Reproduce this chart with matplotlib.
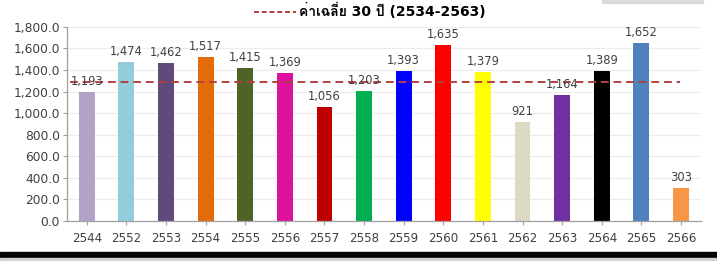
import matplotlib.pyplot as plt
from matplotlib import font_manager
from matplotlib.ft2font import FT2Font
from matplotlib.patches import Rectangle
from matplotlib.lines import Line2D

# find any installed font that has Thai glyphs
thai_fams = []
for f in font_manager.fontManager.ttflist:
    try:
        cmap = FT2Font(f.fname).get_charmap()
    except Exception:
        continue
    if 0x0E04 in cmap and 0x0E09 in cmap and f.name not in thai_fams:
        thai_fams.append(f.name)

plt.rcParams['font.family'] = ['DejaVu Sans'] + thai_fams + ['Noto Sans', 'Noto Sans CJK SC']

years = ["2544", "2552", "2553", "2554", "2555", "2556", "2557", "2558",
         "2559", "2560", "2561", "2562", "2563", "2564", "2565", "2566"]
rain = [1193, 1474, 1462, 1517, 1415, 1369, 1056, 1203,
        1393, 1635, 1379, 921, 1164, 1389, 1652, 303]
colors = ["#b3a2c7", "#92cddc", "#604a7b", "#e36c09", "#4f6228", "#dd119b",
          "#c00000", "#00b050", "#0000ff", "#ff0000", "#ffff00", "#ddd9c3",
          "#7030a0", "#000000", "#4f81bd", "#f79646"]
avg_30 = 1290
avg_label = "ค่าเฉลี่ย 30 ปี (2534-2563)"

fig = plt.figure(figsize=(7.17, 2.61), dpi=100)
ax = fig.add_axes([0.0934, 0.153, 0.884, 0.744])

x = range(len(years))
ax.bar(x, rain, width=0.4, color=colors, zorder=2)
for i, v in enumerate(rain):
    ax.annotate(f"{v:,}", (i, v), xytext=(0, 3), textcoords="offset points",
                ha="center", va="bottom", fontsize=8.3, color="#404040", zorder=4)

ax.axhline(avg_30, xmin=0.005, xmax=0.967, color="#b5403d", ls=(0, (4, 2.5)), lw=1.4, zorder=3)

ax.set_xlim(-0.5, 15.5)
ax.set_ylim(0, 1800)
ax.set_yticks(range(0, 1801, 200))
ax.set_yticklabels([f"{t:,.1f}" for t in range(0, 1801, 200)])
ax.set_xticks(list(x))
ax.set_xticklabels(years)
ax.tick_params(axis="y", labelsize=8.8, colors="#a0a0a0", labelcolor="#404040", length=3, width=0.8, pad=2)
ax.tick_params(axis="x", labelsize=8.6, colors="#a0a0a0", labelcolor="#404040", length=3, width=0.8, pad=5)
ax.grid(axis="y", color="#ececec", lw=0.8, zorder=0)
for s in ["top", "right"]:
    ax.spines[s].set_visible(False)
for s in ["left", "bottom"]:
    ax.spines[s].set_color("#a0a0a0")
    ax.spines[s].set_linewidth(0.9)

handle = Line2D([], [], color="#b5403d", ls=(0, (2.5, 1.5)), lw=1.4)
fig.legend([handle], [avg_label], loc="upper center", bbox_to_anchor=(0.516, 1.035),
           frameon=False, handlelength=3.0, handletextpad=0.25,
           prop={"family": ['DejaVu Sans'] + thai_fams, "weight": "bold", "size": 10})

# screenshot frame bits
fig.patches.append(Rectangle((0, 0.012), 1, 0.022, transform=fig.transFigure,
                             color="black", zorder=5))
fig.patches.append(Rectangle((0, 0), 1, 0.012, transform=fig.transFigure,
                             color="#d0d0d0", zorder=5))
fig.patches.append(Rectangle((0.84, 0.99), 0.14, 0.01, transform=fig.transFigure,
                             color="#dadada", zorder=5))

fig.savefig("out.png", dpi=100)
